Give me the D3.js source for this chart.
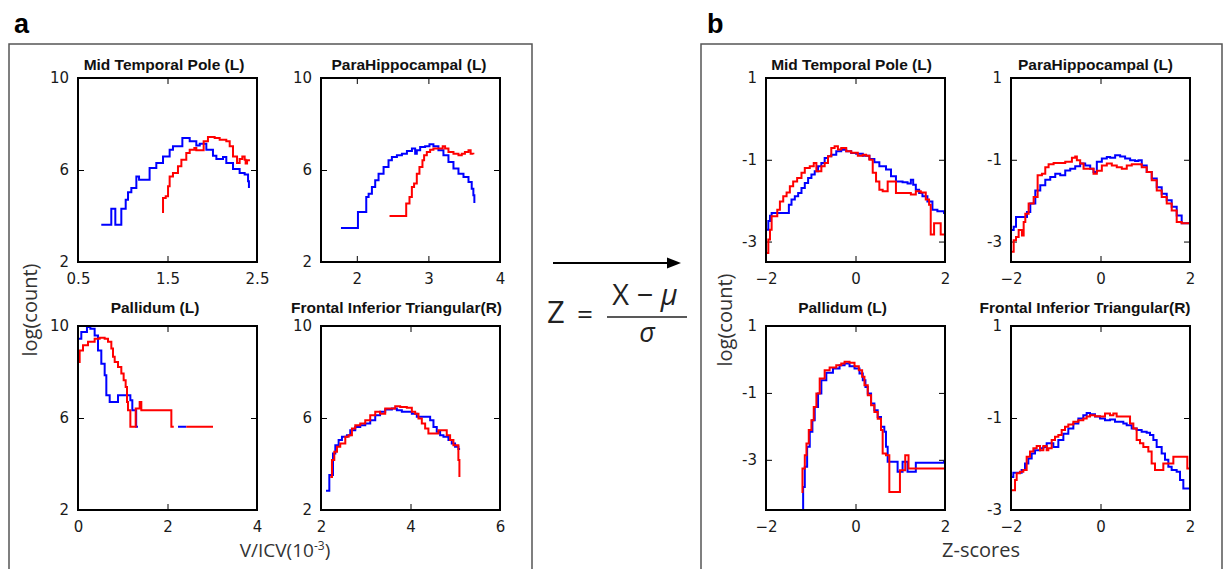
<!DOCTYPE html>
<html>
<head>
<meta charset="utf-8">
<script src="https://cdn.jsdelivr.net/npm/d3@7"></script>
<style>
  body { margin: 0; background: #fff; }
  svg { display: block; }
</style>
</head>
<body>
<div id="root"></div>
<script>
'use strict';

var width = 1227;
var height = 569;

var titles = ['Mid Temporal Pole (L)', 'ParaHippocampal (L)', 'Pallidum (L)', 'Frontal Inferior Triangular(R)'];

// panel a: volume / ICV (10^-3) against log(count)
var volXDomains = [[0.5, 2.5], [1.5, 4], [0, 4], [2, 6]];
var volXTicks = [[0.5, 1.5, 2.5], [2, 3, 4], [0, 2, 4], [2, 4, 6]];
var volYDomain = [2, 10];
var volYTicks = [2, 6, 10];

// panel b: z-scores against log(count)
var zXDomain = [-2, 2];
var zXTicks = [-2, 0, 2];
var zYDomains = [[-3.5, 1], [-3.5, 1], [-4.5, 1], [-3, 1]];
var zYTicks = [-3, -1, 1];

var mtpVolBlue = [[0.76,3.62],[0.872,3.62],[0.872,4.32],[0.917,4.32],[0.917,3.62],[0.984,3.62],[0.984,4.32],[1.033,4.32],[1.033,4.71],[1.059,5.03],[1.096,5.22],[1.152,5.72],[1.182,5.58],[1.282,5.58],[1.30,6.09],[1.375,6.30],[1.45,6.59],[1.524,6.88],[1.561,7.03],[1.666,7.39],[1.748,7.25],[1.822,7.07],[1.86,7.14],[1.934,6.88],[2.008,6.62],[2.046,6.48],[2.12,6.57],[2.157,6.30],[2.232,6.04],[2.306,5.87],[2.362,5.80],[2.40,5.51],[2.41,5.22]];
var mtpVolRed = [[1.45,4.13],[1.45,4.78],[1.48,4.86],[1.506,5.29],[1.524,5.72],[1.561,5.87],[1.617,6.16],[1.655,6.45],[1.71,6.74],[1.748,6.88],[1.80,6.96],[1.822,6.86],[1.878,6.86],[1.904,7.25],[1.952,7.43],[2.027,7.39],[2.083,7.32],[2.157,7.25],[2.195,7.03],[2.232,6.59],[2.277,6.30],[2.306,6.48],[2.336,6.59],[2.362,6.45],[2.373,6.28],[2.389,6.42],[2.41,6.38]];

var phcVolBlue = [[1.779,3.48],[2.016,3.48],[2.016,4.17],[2.118,4.17],[2.132,4.83],[2.165,4.97],[2.211,5.26],[2.257,5.55],[2.304,5.84],[2.374,6.13],[2.443,6.42],[2.49,6.57],[2.56,6.64],[2.63,6.71],[2.70,6.83],[2.77,6.93],[2.815,6.71],[2.838,6.86],[2.885,7.0],[2.954,7.03],[3.015,7.12],[3.07,7.03],[3.14,6.86],[3.21,6.64],[3.28,6.35],[3.35,6.06],[3.42,5.84],[3.49,5.70],[3.56,5.48],[3.605,5.19],[3.628,4.90],[3.642,4.57]];
var phcVolRed = [[2.457,4.0],[2.69,4.0],[2.69,4.54],[2.736,4.83],[2.769,5.26],[2.80,5.41],[2.838,5.84],[2.875,6.13],[2.917,6.42],[2.94,6.64],[2.978,6.78],[3.024,6.88],[3.07,6.93],[3.14,6.93],[3.20,7.03],[3.233,6.93],[3.28,6.78],[3.35,6.71],[3.42,6.64],[3.466,6.71],[3.51,6.78],[3.56,6.86],[3.59,6.71],[3.628,6.68]];

var palVolBlue = [[0,9.45],[0.074,9.74],[0.20,9.96],[0.276,9.88],[0.372,9.59],[0.447,8.94],[0.521,8.36],[0.596,7.86],[0.633,6.99],[0.708,6.99],[0.708,6.70],[0.894,6.70],[0.894,6.99],[1.117,6.99],[1.17,6.77],[1.214,6.34],[1.289,6.34],[1.30,5.62],[1.34,5.62],null,[2.235,5.62],[2.42,5.62]];
var palVolRed = [[0,8.44],[0.037,8.94],[0.112,9.16],[0.223,9.31],[0.372,9.45],[0.484,9.49],[0.596,9.45],[0.67,9.31],[0.745,9.02],[0.782,8.66],[0.82,8.44],[0.894,8.22],[0.968,7.93],[1.02,7.64],[1.065,7.35],[1.095,6.70],[1.117,6.34],[1.17,6.34],[1.17,5.62],[1.266,5.62],[1.289,6.41],[1.378,6.41],[1.378,6.70],[1.415,6.70],[1.415,6.34],[2.086,6.34],[2.086,5.62],[2.14,5.62],null,[2.42,5.62],[3.017,5.62]];

var friVolBlue = [[2.112,2.84],[2.186,2.84],[2.186,3.52],[2.223,3.52],[2.268,4.46],[2.32,4.82],[2.394,5.04],[2.468,5.18],[2.58,5.25],[2.654,5.47],[2.766,5.61],[2.877,5.69],[2.989,5.76],[3.10,5.90],[3.212,6.12],[3.32,6.27],[3.435,6.37],[3.584,6.41],[3.695,6.34],[3.807,6.27],[3.918,6.27],[4.03,6.19],[4.141,6.05],[4.364,6.05],[4.439,5.90],[4.513,5.61],[4.587,5.40],[4.662,5.25],[4.736,5.18],[4.848,5.04],[4.922,4.89],[4.996,4.75],[5.07,4.65],[5.108,4.65]];
var friVolRed = [[2.208,3.44],[2.245,3.44],[2.245,4.17],[2.297,4.53],[2.357,4.75],[2.43,4.89],[2.543,5.18],[2.617,5.25],[2.691,5.54],[2.766,5.69],[2.877,5.76],[2.989,5.90],[3.10,6.12],[3.212,6.27],[3.32,6.19],[3.435,6.41],[3.546,6.41],[3.658,6.51],[3.769,6.48],[3.918,6.45],[4.03,6.27],[4.104,6.19],[4.178,5.98],[4.253,5.76],[4.327,5.54],[4.40,5.33],[4.513,5.33],[4.624,5.47],[4.773,5.47],[4.81,5.25],[4.885,5.04],[4.959,4.82],[5.03,4.82],[5.07,4.17],[5.093,3.44]];

var mtpZBlue = [[-1.985,-2.71],[-1.948,-2.50],[-1.911,-2.37],[-1.874,-2.30],[-1.519,-2.30],[-1.489,-2.10],[-1.43,-1.97],[-1.356,-1.89],[-1.281,-1.81],[-1.207,-1.69],[-1.133,-1.57],[-1.059,-1.445],[-0.985,-1.36],[-0.911,-1.28],[-0.837,-1.16],[-0.763,-1.08],[-0.689,-0.956],[-0.615,-0.915],[-0.541,-0.875],[-0.43,-0.79],[-0.319,-0.752],[-0.207,-0.79],[-0.096,-0.834],[0.015,-0.85],[0.163,-0.90],[0.311,-0.98],[0.422,-1.06],[0.533,-1.16],[0.681,-1.24],[0.793,-1.40],[0.904,-1.53],[1.052,-1.55],[1.163,-1.58],[1.237,-1.49],[1.289,-1.61],[1.348,-1.73],[1.422,-1.81],[1.496,-1.89],[1.607,-2.02],[1.719,-2.22],[1.83,-2.26],[1.978,-2.30],[2.0,-2.37]];
var mtpZRed = [[-1.985,-3.28],[-1.948,-2.95],[-1.911,-2.71],[-1.874,-2.38],[-1.80,-2.38],[-1.748,-2.22],[-1.689,-2.02],[-1.615,-1.89],[-1.54,-1.80],[-1.467,-1.65],[-1.393,-1.53],[-1.304,-1.445],[-1.207,-1.32],[-1.133,-1.20],[-1.022,-1.16],[-0.933,-1.08],[-0.874,-1.28],[-0.80,-1.28],[-0.763,-1.16],[-0.689,-1.08],[-0.615,-0.915],[-0.541,-0.71],[-0.467,-0.67],[-0.393,-0.75],[-0.319,-0.71],[-0.207,-0.79],[-0.096,-0.83],[0.052,-0.90],[0.163,-0.875],[0.237,-0.90],[0.311,-1.0],[0.385,-1.32],[0.459,-1.53],[0.533,-1.73],[0.607,-1.77],[0.681,-1.77],[0.719,-1.53],[0.867,-1.53],[0.904,-1.81],[1.163,-1.81],[1.237,-1.85],[1.348,-1.77],[1.459,-1.80],[1.57,-1.97],[1.644,-2.10],[1.681,-2.83],[1.719,-2.83],[1.756,-2.55],[1.867,-2.55],[1.904,-2.83],[2.0,-2.83]];

var phcZBlue = [[-1.978,-2.72],[-1.94,-2.64],[-1.888,-2.40],[-1.68,-2.40],[-1.643,-2.28],[-1.569,-2.07],[-1.457,-1.75],[-1.346,-1.62],[-1.234,-1.49],[-1.123,-1.42],[-1.011,-1.34],[-0.90,-1.38],[-0.788,-1.26],[-0.677,-1.22],[-0.565,-1.16],[-0.454,-1.09],[-0.342,-1.14],[-0.23,-1.22],[-0.156,-1.30],[-0.082,-1.05],[0.03,-0.97],[0.141,-0.93],[0.216,-0.95],[0.327,-0.89],[0.439,-0.92],[0.55,-0.97],[0.662,-1.01],[0.773,-1.03],[0.848,-1.01],[0.922,-1.14],[1.033,-1.30],[1.145,-1.46],[1.257,-1.67],[1.368,-1.83],[1.48,-1.99],[1.591,-2.15],[1.703,-2.36],[1.814,-2.55],[1.963,-2.55],[2.0,-2.68]];
var phcZRed = [[-1.978,-3.25],[-1.94,-2.97],[-1.888,-2.89],[-1.829,-2.72],[-1.755,-2.85],[-1.717,-2.52],[-1.68,-2.32],[-1.606,-2.07],[-1.494,-1.91],[-1.405,-1.38],[-1.309,-1.34],[-1.234,-1.18],[-1.16,-1.11],[-1.048,-1.08],[-0.90,-1.08],[-0.788,-1.05],[-0.639,-0.95],[-0.565,-0.92],[-0.528,-1.01],[-0.454,-1.09],[-0.379,-1.22],[-0.268,-1.22],[-0.156,-1.34],[-0.082,-1.27],[0.03,-1.14],[0.141,-1.09],[0.253,-1.14],[0.364,-1.18],[0.476,-1.22],[0.587,-1.14],[0.699,-1.11],[0.81,-1.11],[0.922,-1.18],[1.033,-1.30],[1.145,-1.50],[1.257,-1.75],[1.368,-1.91],[1.48,-2.07],[1.591,-2.24],[1.703,-2.52],[1.814,-2.55],[1.926,-2.55],[2.0,-2.81]];

var palZBlue = [[-1.281,-4.5],[-1.17,-4.5],[-1.17,-3.81],[-1.133,-3.21],[-1.081,-2.61],[-1.022,-2.16],[-0.963,-1.82],[-0.911,-1.42],[-0.837,-1.02],[-0.763,-0.62],[-0.652,-0.40],[-0.504,-0.27],[-0.356,-0.17],[-0.244,-0.12],[-0.133,-0.20],[-0.022,-0.27],[0.089,-0.42],[0.163,-0.62],[0.222,-0.82],[0.274,-1.02],[0.348,-1.32],[0.422,-1.52],[0.496,-1.72],[0.57,-2.01],[0.644,-2.16],[0.681,-2.61],[0.719,-3.06],[0.904,-3.06],[0.941,-3.36],[1.052,-3.36],[1.052,-3.06],[1.126,-3.06],[1.163,-3.36],[1.348,-3.36],[1.348,-3.09],[1.978,-3.06],[2.0,-3.36]];
var palZRed = [[-1.207,-3.96],[-1.185,-3.26],[-1.133,-2.86],[-1.096,-2.51],[-1.044,-2.11],[-0.985,-1.82],[-0.933,-1.42],[-0.874,-1.02],[-0.80,-0.57],[-0.689,-0.32],[-0.578,-0.24],[-0.43,-0.17],[-0.319,-0.12],[-0.244,-0.07],[-0.133,-0.10],[-0.022,-0.20],[0.074,-0.32],[0.148,-0.52],[0.20,-0.77],[0.274,-1.07],[0.348,-1.37],[0.422,-1.57],[0.496,-1.77],[0.57,-2.11],[0.607,-2.81],[0.681,-2.86],[0.756,-3.26],[0.756,-3.96],[0.993,-3.96],[0.993,-3.31],[1.089,-3.31],[1.111,-2.86],[1.163,-2.86],[1.185,-3.26],[2.0,-3.26]];

var friZBlue = [[-1.985,-2.28],[-1.948,-2.19],[-1.80,-2.19],[-1.762,-2.13],[-1.687,-1.99],[-1.613,-1.88],[-1.538,-1.77],[-1.464,-1.70],[-1.352,-1.66],[-1.277,-1.63],[-1.203,-1.55],[-1.128,-1.55],[-1.054,-1.63],[-0.942,-1.48],[-0.83,-1.34],[-0.719,-1.23],[-0.607,-1.12],[-0.495,-1.01],[-0.384,-0.94],[-0.309,-0.89],[-0.235,-0.92],[-0.123,-0.97],[-0.011,-1.01],[0.10,-1.05],[0.212,-1.03],[0.324,-1.08],[0.436,-1.08],[0.51,-1.12],[0.585,-1.16],[0.697,-1.23],[0.808,-1.26],[0.92,-1.30],[1.032,-1.32],[1.106,-1.37],[1.181,-1.48],[1.255,-1.63],[1.367,-1.77],[1.441,-1.91],[1.516,-2.06],[1.59,-2.13],[1.702,-2.17],[1.777,-2.35],[1.851,-2.53],[2.0,-2.55]];
var friZRed = [[-1.985,-2.57],[-1.91,-2.57],[-1.91,-2.35],[-1.873,-2.20],[-1.80,-2.17],[-1.724,-2.13],[-1.65,-1.84],[-1.575,-1.73],[-1.50,-1.66],[-1.426,-1.61],[-1.352,-1.70],[-1.277,-1.61],[-1.203,-1.70],[-1.166,-1.66],[-1.091,-1.48],[-1.017,-1.41],[-0.942,-1.37],[-0.868,-1.26],[-0.793,-1.19],[-0.719,-1.14],[-0.607,-1.08],[-0.495,-1.05],[-0.384,-1.01],[-0.309,-0.97],[-0.235,-0.94],[-0.123,-0.96],[-0.011,-0.97],[0.10,-0.90],[0.212,-0.94],[0.287,-0.90],[0.361,-0.97],[0.585,-0.97],[0.66,-1.12],[0.734,-1.23],[0.808,-1.48],[0.883,-1.55],[0.957,-1.63],[1.069,-1.73],[1.143,-1.99],[1.218,-2.13],[1.33,-2.13],[1.404,-1.99],[1.59,-1.99],[1.628,-1.84],[1.889,-1.84],[1.94,-2.10],[2.0,-2.33]];

var volBlue = [mtpVolBlue, phcVolBlue, palVolBlue, friVolBlue];
var volRed = [mtpVolRed, phcVolRed, palVolRed, friVolRed];
var zBlue = [mtpZBlue, phcZBlue, palZBlue, friZBlue];
var zRed = [mtpZRed, phcZRed, palZRed, friZRed];

// layout
var plotW = 179;
var plotH = 184;
var colsA = [78, 321];
var colsB = [766, 1011];
var rows = [78, 326];
var titleBase = [70, 313];
var titleDxA = [-3.5, -1.5, -12.5, -14];
var titleDxB = [-4, -5, -13, -15.5];

var svg = d3.select('#root')
  .append('svg')
  .attr('width', width)
  .attr('height', height);

// outer frames
svg.append('rect').attr('x', 9).attr('y', 44).attr('width', 523).attr('height', 560)
  .attr('fill', 'none').attr('stroke', '#555').attr('stroke-width', 1.5);
svg.append('rect').attr('x', 701).attr('y', 44).attr('width', 521).attr('height', 560)
  .attr('fill', 'none').attr('stroke', '#555').attr('stroke-width', 1.5);

svg.append('text').attr('x', 14).attr('y', 33).text('a')
  .attr('font-family', 'Liberation Sans, Arial, sans-serif').attr('font-weight', 'bold').attr('font-size', 27);
svg.append('text').attr('x', 707).attr('y', 33).text('b')
  .attr('font-family', 'Liberation Sans, Arial, sans-serif').attr('font-weight', 'bold').attr('font-size', 27);

function fmtX(d) { return d < 0 ? '\u2212' + Math.abs(d) : String(d); }
function fmtY(d) { return d < 0 ? '-' + Math.abs(d) : String(d); }

function drawPanel(left, top, xDom, xTicks, yDom, yTicks, title, titleDx, tBase, blue, red) {
  var x = d3.scaleLinear().domain(xDom).range([0, plotW]);
  var y = d3.scaleLinear().domain(yDom).range([plotH, 0]);
  var g = svg.append('g').attr('transform', 'translate(' + left + ',' + top + ')');

  var styleAxis = function(a) {
    a.select('.domain').remove();
    a.selectAll('line').attr('stroke', '#000').attr('stroke-width', 1);
    a.selectAll('text').attr('font-family', 'DejaVu Sans, sans-serif').attr('font-size', 15).attr('fill', '#1a1a1a');
  };

  g.append('g').attr('transform', 'translate(0,' + plotH + ')')
    .call(d3.axisBottom(x).tickValues(xTicks).tickSize(-6).tickPadding(11).tickFormat(fmtX))
    .call(styleAxis);
  g.append('g')
    .call(d3.axisTop(x).tickValues(xTicks).tickSize(-6).tickFormat(''))
    .call(styleAxis);
  g.append('g')
    .call(d3.axisLeft(y).tickValues(yTicks).tickSize(-6).tickPadding(9).tickFormat(fmtY))
    .call(styleAxis);
  g.append('g').attr('transform', 'translate(' + plotW + ',0)')
    .call(d3.axisRight(y).tickValues(yTicks).tickSize(-6).tickFormat(''))
    .call(styleAxis);

  // histogram outlines are drawn as steps
  var line = d3.line()
    .defined(function(d) { return d !== null; })
    .curve(d3.curveStepAfter)
    .x(function(d) { return x(d[0]); })
    .y(function(d) { return y(d[1]); });

  g.append('path').datum(blue).attr('d', line)
    .attr('fill', 'none').attr('stroke', '#0000ff').attr('stroke-width', 2);
  g.append('path').datum(red).attr('d', line)
    .attr('fill', 'none').attr('stroke', '#ff0000').attr('stroke-width', 2);

  g.append('rect').attr('width', plotW).attr('height', plotH)
    .attr('fill', 'none').attr('stroke', '#000').attr('stroke-width', 2);

  svg.append('text')
    .attr('x', left + plotW / 2 + titleDx)
    .attr('y', tBase)
    .attr('text-anchor', 'middle')
    .attr('font-family', 'Liberation Sans, Arial, sans-serif')
    .attr('font-weight', 'bold')
    .attr('font-size', 15.5)
    .attr('fill', '#111')
    .text(title);
}

for (var p = 0; p < 4; p++) {
  var c = p % 2;
  var r = Math.floor(p / 2);
  drawPanel(colsA[c], rows[r], volXDomains[p], volXTicks[p], volYDomain, volYTicks,
    titles[p], titleDxA[p], titleBase[r], volBlue[p], volRed[p]);
  drawPanel(colsB[c], rows[r], zXDomain, zXTicks, zYDomains[p], zYTicks,
    titles[p], titleDxB[p], titleBase[r], zBlue[p], zRed[p]);
}

// axis labels
var labelFont = 'Open Sans, Liberation Sans, sans-serif';
svg.append('text').attr('transform', 'translate(37,310) rotate(-90)')
  .attr('text-anchor', 'middle').attr('font-family', labelFont).attr('font-size', 20).attr('fill', '#333')
  .text('log(count)');
svg.append('text').attr('transform', 'translate(732,320) rotate(-90)')
  .attr('text-anchor', 'middle').attr('font-family', labelFont).attr('font-size', 20).attr('fill', '#333')
  .text('log(count)');

var vl = svg.append('text').attr('x', 285).attr('y', 557)
  .attr('text-anchor', 'middle').attr('font-family', labelFont).attr('font-size', 19).attr('fill', '#333');
vl.append('tspan').text('V/ICV(10');
vl.append('tspan').attr('font-size', 12).attr('dy', -7).text('-3');
vl.append('tspan').attr('dy', 7).text(')');

svg.append('text').attr('x', 981).attr('y', 557)
  .attr('text-anchor', 'middle').attr('font-family', labelFont).attr('font-size', 20).attr('fill', '#333')
  .text('Z-scores');

// arrow and formula between the panels
svg.append('line').attr('x1', 553).attr('y1', 263).attr('x2', 670).attr('y2', 263)
  .attr('stroke', '#000').attr('stroke-width', 2);
svg.append('path').attr('d', 'M667,257.5L681,263L667,268.5Z').attr('fill', '#000');

var eqFont = 'Open Sans, Liberation Sans, sans-serif';
svg.append('text').attr('x', 547).attr('y', 323).attr('font-family', eqFont).attr('font-size', 31)
  .attr('fill', '#222').text('Z');
svg.append('text').attr('x', 585).attr('y', 324).attr('text-anchor', 'middle').attr('font-family', eqFont)
  .attr('font-size', 28).attr('fill', '#222').text('=');
var num = svg.append('text').attr('x', 645).attr('y', 305).attr('text-anchor', 'middle')
  .attr('font-family', eqFont).attr('font-size', 29).attr('fill', '#222');
num.append('tspan').text('X \u2212 ');
num.append('tspan').attr('font-style', 'italic').text('\u03bc');
svg.append('line').attr('x1', 607).attr('y1', 317).attr('x2', 687).attr('y2', 317)
  .attr('stroke', '#222').attr('stroke-width', 1.5);
svg.append('text').attr('x', 647).attr('y', 342).attr('text-anchor', 'middle')
  .attr('font-family', eqFont).attr('font-style', 'italic').attr('font-size', 27).attr('fill', '#222')
  .text('\u03c3');
</script>
</body>
</html>
